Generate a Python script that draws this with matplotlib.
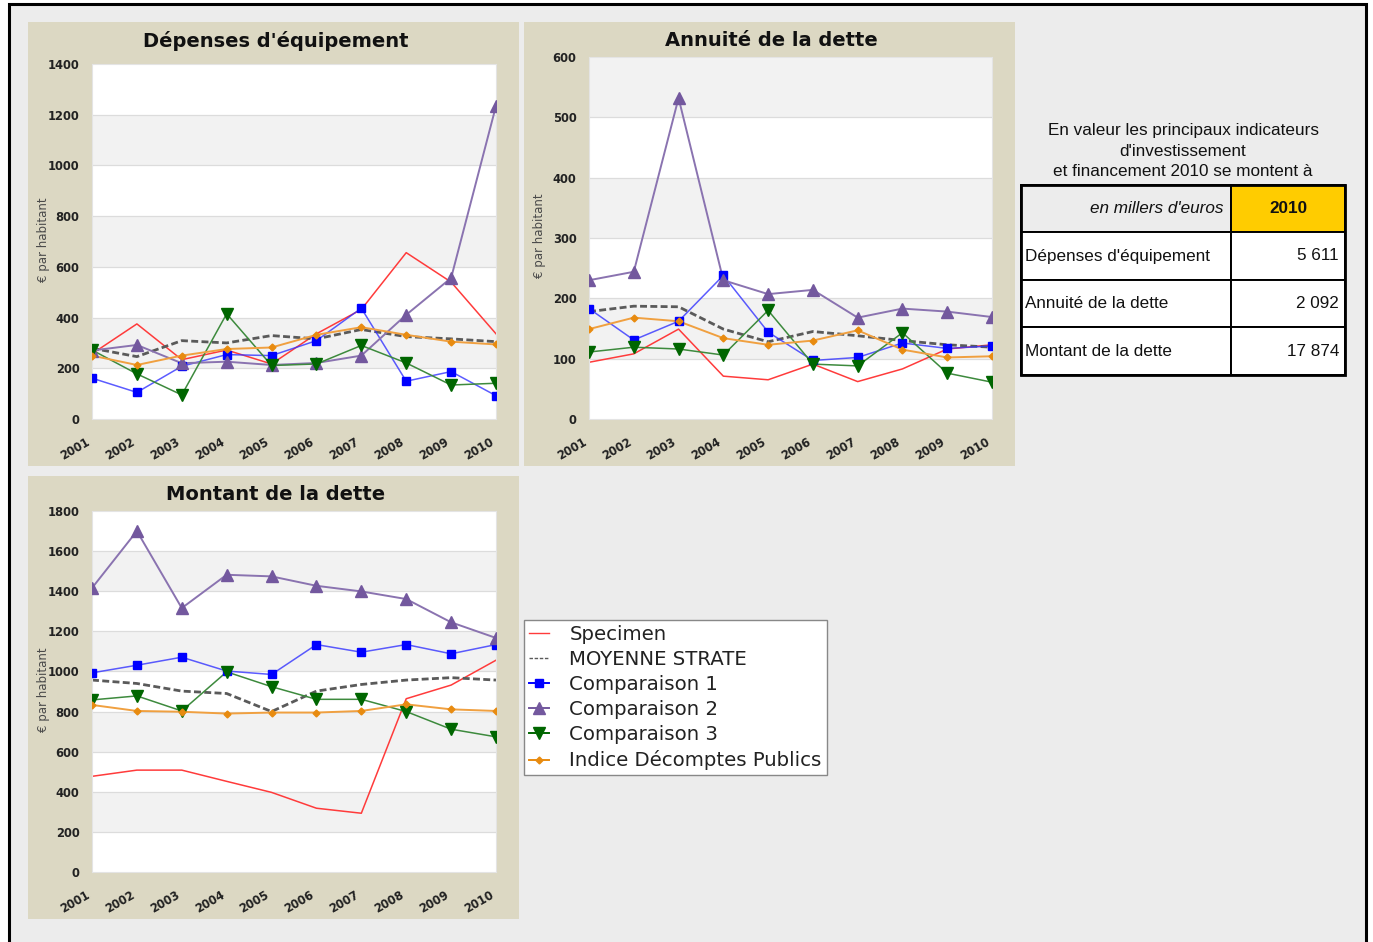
import matplotlib
matplotlib.use("Agg")
import matplotlib.pyplot as plt
from matplotlib.patches import Rectangle
from matplotlib.lines import Line2D

W, H = 1373, 942

years = list(range(2001, 2011))
year_labels = [str(y) for y in years]

# Dépenses d'équipement (€ par habitant)
equip_specimen = [257, 375, 234, 272, 217, 336, 432, 656, 540, 336]
equip_moyenne = [279, 246, 309, 300, 329, 316, 353, 325, 316, 305]
equip_comp1 = [161, 105, 208, 254, 250, 309, 437, 149, 187, 92]
equip_comp2 = [270, 292, 220, 226, 213, 221, 250, 411, 556, 1235]
equip_comp3 = [272, 178, 95, 415, 211, 217, 290, 221, 134, 141]
equip_indice = [250, 213, 250, 276, 282, 332, 362, 332, 305, 294]

# Annuité de la dette
annu_specimen = [94, 108, 149, 71, 65, 91, 62, 83, 116, 123]
annu_moyenne = [178, 187, 186, 149, 128, 145, 138, 130, 123, 119]
annu_comp1 = [183, 131, 162, 238, 144, 97, 102, 126, 117, 121]
annu_comp2 = [230, 244, 532, 230, 207, 214, 168, 183, 178, 169]
annu_comp3 = [111, 119, 116, 106, 180, 91, 88, 143, 76, 61]
annu_indice = [149, 168, 162, 134, 123, 130, 147, 115, 102, 104]

# Montant de la dette
dette_specimen = [477, 508, 508, 452, 397, 318, 293, 864, 932, 1056]
dette_moyenne = [957, 940, 902, 890, 800, 902, 935, 957, 969, 957]
dette_comp1 = [993, 1031, 1071, 1002, 985, 1134, 1096, 1134, 1088, 1134]
dette_comp2 = [1416, 1700, 1316, 1482, 1474, 1427, 1399, 1361, 1245, 1167]
dette_comp3 = [858, 878, 803, 998, 924, 861, 861, 800, 712, 674]
dette_indice = [833, 803, 799, 790, 795, 795, 803, 836, 811, 803]

series_names = ["Specimen", "MOYENNE STRATE", "Comparaison 1",
                "Comparaison 2", "Comparaison 3", "Indice Décomptes Publics"]

table_title = "En valeur les principaux indicateurs\nd'investissement\net financement 2010 se montent à"
table_rows = ["Dépenses d'équipement", "Annuité de la dette", "Montant de la dette"]
table_values = ["5 611", "2 092", "17 874"]

# styles: line colour, marker colour, marker, marker size, linestyle, lw
styles = [
    dict(lc="#ff3b3b", mc="#ff3b3b", m=None, ms=0, ls="-", lw=1.1, la=1.0),
    dict(lc="#5a5a5a", mc="#5a5a5a", m=None, ms=0, ls=(0, (2.5, 1.2)), lw=2.0, la=1.0),
    dict(lc="#3333ff", mc="#0000ff", m="s", ms=6, ls="-", lw=1.1, la=0.8),
    dict(lc="#8a73b0", mc="#73589e", m="^", ms=8, ls="-", lw=1.4, la=1.0),
    dict(lc="#3d8a3d", mc="#006600", m="v", ms=8, ls="-", lw=1.1, la=1.0),
    dict(lc="#f0a040", mc="#e88b10", m="D", ms=3.5, ls="-", lw=1.4, la=1.0),
]

BEIGE = "#dcd8c3"
BG = "#ececec"


def frac(x0, y0, x1, y1):
    return [x0 / W, 1 - y1 / H, (x1 - x0) / W, (y1 - y0) / H]


fig = plt.figure(figsize=(W / 100, H / 100), dpi=100)
fig.patch.set_facecolor("white")

# outer frame
fig.patches.append(Rectangle((9 / W, -0.05), (1366 - 9) / W, 1.05 - 4 / H,
                             transform=fig.transFigure, facecolor=BG,
                             edgecolor="black", linewidth=2.2, zorder=-3))


def draw_panel(box, plot, title, title_y, ylabel_xy, ymax, step, data):
    fig.patches.append(Rectangle((box[0] / W, 1 - box[3] / H),
                                 (box[2] - box[0]) / W, (box[3] - box[1]) / H,
                                 transform=fig.transFigure, facecolor=BEIGE,
                                 edgecolor="none", zorder=-2))
    ax = fig.add_axes(frac(*plot))
    ax.set_facecolor("white")
    ticks = list(range(0, ymax + 1, step))
    for i in range(len(ticks) - 1):
        if i % 2 == 1:
            ax.axhspan(ticks[i], ticks[i + 1], color="#f2f2f2", zorder=0, lw=0)
    for t in ticks[1:-1]:
        ax.axhline(t, color="#dcdcdc", lw=0.9, zorder=0.5)
    for vals, st in zip(data, styles):
        ax.plot(years, vals, color=st["lc"], ls=st["ls"], lw=st["lw"],
                alpha=st["la"], zorder=2)
        if st["m"]:
            ax.plot(years, vals, ls="none", marker=st["m"], ms=st["ms"],
                    color=st["mc"], mec=st["mc"], zorder=3)
    ax.set_xlim(2001, 2010)
    ax.set_ylim(0, ymax)
    ax.set_yticks(ticks)
    ax.set_yticklabels([str(t) for t in ticks], fontsize=8.3, fontweight="bold",
                       color="#222222")
    ax.set_xticks(years)
    ax.set_xticklabels(year_labels, fontsize=8.3, fontweight="bold",
                       color="#222222", rotation=30, ha="right", va="top")
    ax.tick_params(length=0, pad=9)
    ax.tick_params(axis="x", pad=12)
    for s in ax.spines.values():
        s.set_color("#e4e4e4")
        s.set_linewidth(0.8)
    cx = (box[0] + box[2]) / 2 + 2
    fig.text(cx / W, 1 - title_y / H, title, ha="center", va="center",
             fontsize=14, fontweight="bold", color="#111111")
    fig.text(ylabel_xy[0] / W, 1 - ylabel_xy[1] / H, "€ par habitant",
             rotation=90, ha="center", va="center", fontsize=8.5, color="#4a4a4a")
    return ax


draw_panel((28, 22, 519, 466), (92, 64, 496, 419), "Dépenses d'équipement", 41,
           (43, 240), 1400, 200,
           [equip_specimen, equip_moyenne, equip_comp1, equip_comp2, equip_comp3, equip_indice])
draw_panel((524, 22, 1015, 466), (589, 57, 992, 419), "Annuité de la dette", 41,
           (540, 236), 600, 100,
           [annu_specimen, annu_moyenne, annu_comp1, annu_comp2, annu_comp3, annu_indice])
draw_panel((28, 476, 519, 919), (92, 511, 496, 872), "Montant de la dette", 494,
           (43, 690), 1800, 200,
           [dette_specimen, dette_moyenne, dette_comp1, dette_comp2, dette_comp3, dette_indice])

# legend
handles = []
for st in styles:
    handles.append(Line2D([], [], color=st["lc"] if st["m"] is None else st["mc"],
                          ls=st["ls"] if st["m"] is None else "-",
                          lw=1.0 if st["m"] is None else 1.4,
                          marker=st["m"], ms=st["ms"], mfc=st["mc"], mec=st["mc"]))
leg = fig.legend(handles, series_names, loc="upper left",
                 bbox_to_anchor=(524 / W, 1 - 620 / H), borderaxespad=0,
                 fontsize=14.2, frameon=True, fancybox=False, edgecolor="#888888",
                 framealpha=1.0, handlelength=1.0, handletextpad=1.05,
                 labelspacing=0.31, borderpad=0.25)
leg.get_frame().set_linewidth(1.0)
for t in leg.get_texts():
    t.set_color("#222222")

# table
tf = "Liberation Sans"
fig.text(1183 / W, 1 - 151 / H, table_title, ha="center", va="center",
         fontsize=12.3, family=tf, linespacing=1.45, color="#111111")
x0, xm, x1 = 1021, 1231, 1345
row_y = [185, 232, 280, 327, 375]
fig.patches.append(Rectangle((x0 / W, 1 - row_y[1] / H), (xm - x0) / W,
                             (row_y[1] - row_y[0]) / H, transform=fig.transFigure,
                             facecolor="#ececec", edgecolor="black", lw=1.4, zorder=2))
fig.patches.append(Rectangle((xm / W, 1 - row_y[1] / H), (x1 - xm) / W,
                             (row_y[1] - row_y[0]) / H, transform=fig.transFigure,
                             facecolor="#ffcc00", edgecolor="black", lw=1.4, zorder=2))
for i in range(3):
    ya, yb = row_y[i + 1], row_y[i + 2]
    for (a, b) in ((x0, xm), (xm, x1)):
        fig.patches.append(Rectangle((a / W, 1 - yb / H), (b - a) / W, (yb - ya) / H,
                                     transform=fig.transFigure, facecolor="white",
                                     edgecolor="black", lw=1.4, zorder=2))
    yc = (ya + yb) / 2
    fig.text(1025 / W, 1 - yc / H, table_rows[i], ha="left", va="center",
             fontsize=12.3, family=tf, color="#111111", zorder=3)
    fig.text(1339 / W, 1 - yc / H, table_values[i], ha="right", va="center",
             fontsize=12.3, family=tf, color="#111111", zorder=3)
fig.patches.append(Rectangle((x0 / W, 1 - row_y[-1] / H), (x1 - x0) / W,
                             (row_y[-1] - row_y[0]) / H, transform=fig.transFigure,
                             facecolor="none", edgecolor="black", lw=2.0, zorder=4))
yc = (row_y[0] + row_y[1]) / 2
fig.text(1224 / W, 1 - yc / H, "en millers d'euros", ha="right", va="center",
         fontsize=12.3, family=tf, style="italic", color="#111111", zorder=3)
fig.text(1288 / W, 1 - yc / H, "2010", ha="center", va="center",
         fontsize=12.3, family=tf, fontweight="bold", color="#111111", zorder=3)

fig.savefig("out.png", dpi=100, facecolor=fig.get_facecolor())
